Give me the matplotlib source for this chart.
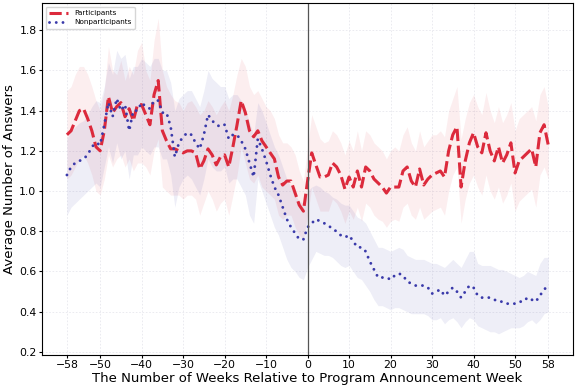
import matplotlib
matplotlib.use("Agg")
import matplotlib.pyplot as plt
import numpy as np

weeks = list(range(-58, 59))

participants = [
    1.28, 1.30, 1.35, 1.40, 1.41, 1.36, 1.30, 1.22, 1.20, 1.30,
    1.47, 1.39, 1.42, 1.44, 1.37, 1.41, 1.35, 1.43, 1.43, 1.38,
    1.33, 1.48, 1.55, 1.30, 1.25, 1.21, 1.21, 1.20, 1.19, 1.20,
    1.20, 1.19, 1.11, 1.15, 1.21, 1.18, 1.13, 1.17, 1.18, 1.12,
    1.22, 1.33, 1.45, 1.39, 1.30, 1.27, 1.30, 1.25, 1.22, 1.19,
    1.16, 1.07, 1.03, 1.05, 1.05, 0.99, 0.93, 0.90, 1.05, 1.19,
    1.13, 1.07, 1.07, 1.08, 1.14, 1.12, 1.08, 1.01, 1.07, 1.02,
    1.10, 1.02, 1.12, 1.10, 1.06, 1.04, 1.02, 0.99, 1.02, 1.02,
    1.02, 1.10, 1.12, 1.05, 1.02, 1.11, 1.03, 1.06, 1.08, 1.09,
    1.10, 1.07, 1.20, 1.28, 1.32, 1.02, 1.15, 1.24, 1.29, 1.22,
    1.19, 1.29, 1.20, 1.15, 1.22, 1.14, 1.18, 1.24, 1.09, 1.15,
    1.17, 1.19, 1.21, 1.12, 1.29, 1.33, 1.23,
]
part_hi = [
    1.50, 1.52, 1.58, 1.62, 1.62, 1.58, 1.52, 1.45, 1.40, 1.50,
    1.72, 1.60, 1.58, 1.65, 1.55, 1.62, 1.58, 1.70, 1.74, 1.60,
    1.55, 1.75, 1.86, 1.60, 1.52, 1.48, 1.45, 1.44, 1.40, 1.44,
    1.45, 1.42, 1.38, 1.40, 1.45, 1.42, 1.38, 1.42, 1.45, 1.40,
    1.48, 1.58, 1.66, 1.62, 1.52, 1.48, 1.50, 1.46, 1.42, 1.40,
    1.36, 1.28, 1.24, 1.24, 1.22, 1.18, 1.10, 1.05, 1.22, 1.38,
    1.32, 1.26, 1.24, 1.25, 1.30, 1.28, 1.24, 1.18, 1.25, 1.20,
    1.30, 1.20, 1.30, 1.28, 1.24, 1.22, 1.20, 1.16, 1.20, 1.22,
    1.20, 1.28, 1.32, 1.24, 1.20, 1.30, 1.22, 1.25, 1.28, 1.28,
    1.30, 1.27, 1.40, 1.46, 1.52, 1.26, 1.36, 1.44, 1.48, 1.42,
    1.38, 1.49, 1.40, 1.34, 1.42, 1.34, 1.38, 1.44, 1.30, 1.36,
    1.38, 1.40, 1.42, 1.35, 1.48, 1.52, 1.42,
]
part_lo = [
    1.06, 1.08, 1.12, 1.16, 1.18, 1.14, 1.08, 1.00, 0.98, 1.06,
    1.18, 1.12, 1.16, 1.18, 1.12, 1.16, 1.10, 1.14, 1.14, 1.12,
    1.08, 1.20, 1.26, 1.02, 1.00, 0.98, 0.98, 0.98, 0.96, 0.98,
    0.98, 0.96, 0.88, 0.94, 1.00, 0.96, 0.90, 0.94, 0.96, 0.88,
    0.98, 1.08, 1.22, 1.14, 1.06, 1.04, 1.08, 1.02, 1.00, 0.98,
    0.96, 0.88, 0.86, 0.88, 0.88, 0.82, 0.78, 0.76, 0.88, 1.02,
    0.96, 0.90, 0.90, 0.90, 0.96, 0.94, 0.90, 0.84, 0.90, 0.86,
    0.92, 0.85, 0.94, 0.92, 0.88, 0.86, 0.85, 0.82, 0.85, 0.86,
    0.85, 0.92, 0.94, 0.88, 0.86, 0.92, 0.86, 0.88, 0.90, 0.91,
    0.92, 0.88, 1.00, 1.08, 1.12, 0.84, 0.96, 1.04, 1.08, 1.02,
    0.98, 1.08, 1.00, 0.96, 1.02, 0.94, 0.98, 1.04, 0.90, 0.95,
    0.97, 0.99, 1.01, 0.92, 1.08, 1.12, 1.06,
]

nonparticipants = [
    1.08, 1.12, 1.14, 1.15, 1.16, 1.18, 1.22, 1.24, 1.23, 1.33,
    1.44, 1.37, 1.46, 1.40, 1.43, 1.30, 1.40, 1.40, 1.44, 1.42,
    1.41, 1.45, 1.45, 1.39, 1.39, 1.32, 1.17, 1.24, 1.27, 1.29,
    1.28, 1.24, 1.21, 1.28, 1.38, 1.35, 1.33, 1.32, 1.33, 1.26,
    1.28, 1.28, 1.25, 1.21, 1.14, 1.07, 1.26, 1.21, 1.15, 1.08,
    1.02, 0.98, 0.92, 0.86, 0.82, 0.79, 0.76, 0.76, 0.82, 0.84,
    0.86, 0.85, 0.84, 0.83, 0.81, 0.80, 0.78, 0.77, 0.78, 0.75,
    0.72, 0.72, 0.70, 0.65, 0.61, 0.57, 0.57, 0.57, 0.56, 0.58,
    0.59, 0.58, 0.55, 0.54, 0.53, 0.53, 0.53, 0.52, 0.49, 0.50,
    0.51, 0.48, 0.50, 0.52, 0.50, 0.47, 0.50, 0.53, 0.52, 0.48,
    0.47, 0.47, 0.47, 0.46, 0.45, 0.45, 0.44, 0.44, 0.44, 0.45,
    0.45, 0.47, 0.46, 0.45, 0.48, 0.51, 0.53,
]
non_hi = [
    1.26, 1.30, 1.32, 1.34, 1.35, 1.38, 1.42, 1.45, 1.44, 1.52,
    1.64, 1.58, 1.70, 1.66, 1.68, 1.56, 1.62, 1.62, 1.66, 1.64,
    1.62, 1.66, 1.66, 1.60, 1.60, 1.54, 1.40, 1.46, 1.48, 1.50,
    1.50, 1.46, 1.42, 1.50, 1.60, 1.56, 1.54, 1.52, 1.52, 1.46,
    1.48, 1.48, 1.45, 1.41, 1.34, 1.28, 1.44, 1.40, 1.34, 1.28,
    1.22, 1.18, 1.12, 1.06, 1.02, 0.98, 0.95, 0.94, 1.00, 1.02,
    1.03, 1.02, 1.00, 0.99, 0.97, 0.96, 0.94, 0.93, 0.93, 0.90,
    0.87, 0.86, 0.84, 0.80, 0.76, 0.72, 0.72, 0.71, 0.70, 0.71,
    0.72, 0.71, 0.68, 0.67, 0.66, 0.66, 0.66, 0.65, 0.64, 0.64,
    0.63, 0.62, 0.64, 0.66, 0.64, 0.62, 0.66, 0.70, 0.70, 0.64,
    0.63, 0.63, 0.63, 0.62, 0.61, 0.61, 0.60, 0.59, 0.58, 0.57,
    0.58, 0.60, 0.59, 0.58, 0.64, 0.67, 0.67,
]
non_lo = [
    0.88, 0.92, 0.94, 0.96, 0.98, 1.00, 1.02, 1.04, 1.02, 1.12,
    1.22, 1.14, 1.24, 1.16, 1.20, 1.06, 1.18, 1.18, 1.22, 1.20,
    1.18, 1.22, 1.22, 1.16, 1.16, 1.08, 0.92, 1.02, 1.06, 1.08,
    1.06, 1.02, 0.98, 1.06, 1.16, 1.12, 1.10, 1.10, 1.12, 1.04,
    1.06, 1.06, 1.02, 0.98, 0.88, 0.84, 1.06, 1.00, 0.94, 0.88,
    0.82, 0.78, 0.72, 0.66, 0.62, 0.60, 0.57, 0.56, 0.62, 0.66,
    0.70, 0.69, 0.68, 0.68, 0.67, 0.65, 0.63, 0.62, 0.63, 0.60,
    0.57, 0.56, 0.53, 0.50, 0.46, 0.43, 0.43, 0.42, 0.41, 0.42,
    0.42, 0.41, 0.40, 0.39, 0.39, 0.39, 0.39, 0.38, 0.36, 0.36,
    0.37, 0.34, 0.36, 0.37, 0.35, 0.32, 0.35, 0.37, 0.36, 0.33,
    0.32, 0.31, 0.30, 0.30, 0.29, 0.30, 0.31, 0.32, 0.32, 0.32,
    0.33, 0.35, 0.36, 0.34, 0.36, 0.39, 0.40,
]

xticks = [-58, -50, -40, -30, -20, -10, 0, 10, 20, 30, 40, 50, 58]
red = '#dc2a3c'
blue = '#3a3aaa'

fig = plt.figure(figsize=(5.76, 3.9), dpi=100)
ax = fig.add_axes([0.073, 0.09, 0.922, 0.902])

ax.fill_between(weeks, part_lo, part_hi, color=red, alpha=0.08, linewidth=0)
ax.fill_between(weeks, non_lo, non_hi, color='#5a5ab4', alpha=0.10, linewidth=0)
ax.plot(weeks, participants, color=red, linestyle=(0, (4, 1.5)), linewidth=2.2, label='Participants')
ax.plot(weeks, nonparticipants, color=blue, linestyle=(0, (0.01, 2.3)), linewidth=2.1,
        dash_capstyle='round', label='Nonparticipants')
ax.axvline(0, color='#555555', linewidth=0.9)

ax.set_xlim(-64, 64)
ax.set_ylim(0.185, 1.935)
ax.set_xticks(xticks)
ax.set_yticks(np.arange(0.2, 1.81, 0.2))
ax.tick_params(labelsize=7.8, length=2.5, pad=1.5)
ax.grid(True, color='#e8e8ee', linewidth=0.6, linestyle=(0, (2, 2)))
ax.set_axisbelow(True)
ax.set_xlabel('The Number of Weeks Relative to Program Announcement Week', fontsize=9.5, labelpad=1)
ax.set_ylabel('Average Number of Answers', fontsize=9.5, labelpad=2)
ax.legend(loc='upper left', fontsize=5.2, frameon=True, handlelength=2.6, borderpad=0.5,
          labelspacing=0.4)

fig.savefig('out.png', dpi=100)
